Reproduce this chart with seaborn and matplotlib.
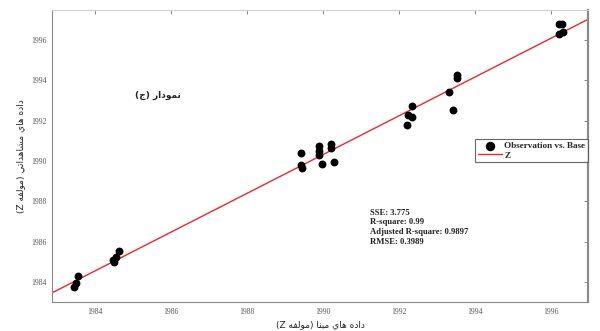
import numpy as np
import pandas as pd
import seaborn as sns
import matplotlib.pyplot as plt

# observed vs base values (component Z)
base_x = [1983.45, 1983.50, 1983.55, 1984.47, 1984.50, 1984.55, 1984.63,
          1989.42, 1989.42, 1989.45, 1989.90, 1989.90, 1989.90, 1989.97,
          1990.20, 1990.20, 1990.30,
          1992.20, 1992.24, 1992.33, 1992.33,
          1993.32, 1993.43, 1993.52, 1993.52,
          1996.20, 1996.28, 1996.22, 1996.30]
obs_y = [1983.75, 1983.92, 1984.30, 1985.09, 1984.99, 1985.24, 1985.53,
         1990.38, 1989.80, 1989.64, 1990.74, 1990.51, 1990.30, 1989.84,
         1990.84, 1990.63, 1989.97,
         1991.77, 1992.30, 1992.71, 1992.18,
         1993.45, 1992.51, 1994.28, 1994.11,
         1996.79, 1996.80, 1996.30, 1996.38]

# linear fit Z(x) = p1 * (x - 1990) + p2
p1, p2 = 0.963, 1990.32

x_ticks = [1984, 1986, 1988, 1990, 1992, 1994, 1996]
y_ticks = [1984, 1986, 1988, 1990, 1992, 1994, 1996]
x_range = (1982.87, 1996.97)
y_range = (1983.0, 1997.5)

stats_text = "SSE: 3.775\nR-square: 0.99\nAdjusted R-square: 0.9897\nRMSE: 0.3989"
legend_labels = ["Observation vs. Base", "Z"]
panel_title = "نمودار (ج)"
x_label = "داده هاي مبنا (مولفه Z)"
y_label = "داده هاي مشاهداتي (مولفه Z)"


# minimal arabic shaping: letter -> (isolated form codepoint, dual joining)
AR_FORMS = {
    'ا': (0xFE8D, False), 'ب': (0xFE8F, True), 'ت': (0xFE95, True),
    'ج': (0xFE9D, True), 'د': (0xFEA9, False), 'ر': (0xFEAD, False),
    'ش': (0xFEB5, True), 'ف': (0xFED1, True), 'ل': (0xFEDD, True),
    'م': (0xFEE1, True), 'ن': (0xFEE5, True), 'ه': (0xFEE9, True),
    'و': (0xFEED, False), 'ي': (0xFEF1, True),
}


def shape_rtl(text):
    out = []
    for i, ch in enumerate(text):
        if ch not in AR_FORMS:
            out.append(ch)
            continue
        base, dual = AR_FORMS[ch]
        prev = text[i - 1] if i > 0 else ''
        nxt = text[i + 1] if i + 1 < len(text) else ''
        j_prev = prev in AR_FORMS and AR_FORMS[prev][1]
        j_next = dual and nxt in AR_FORMS
        if j_prev and j_next:
            code = base + 3
        elif j_prev:
            code = base + 1
        elif j_next:
            code = base + 2
        else:
            code = base
        out.append(chr(code))
    vis = ''.join(reversed(out))
    return vis.translate(str.maketrans('()', ')('))


sns.set_theme(style="white")
plt.rcParams['font.family'] = ['DejaVu Sans']

df = pd.DataFrame({'x': base_x, 'y': obs_y})
fit_x = np.array(x_range)
fit = pd.DataFrame({'x': fit_x, 'y': p1 * (fit_x - 1990) + p2})

fig = plt.figure(figsize=(6, 3.31), dpi=100)
ax = fig.add_axes([0.0867, 0.0876, 0.8933, 0.8824])

sns.scatterplot(data=df, x='x', y='y', ax=ax, color='black', s=32,
                edgecolor='black', linewidth=0, label=legend_labels[0], zorder=3)
sns.lineplot(data=fit, x='x', y='y', ax=ax, color='#e8292b', linewidth=1.0,
             label=legend_labels[1], zorder=2)

ax.set_xlim(*x_range)
ax.set_ylim(*y_range)
ax.set_xticks(x_ticks)
ax.set_yticks(y_ticks)
ax.tick_params(direction='in', length=3, width=0.6, colors='#777777',
               top=True, right=True, labelsize=5.5, pad=4)
for lab in ax.get_xticklabels() + ax.get_yticklabels():
    lab.set_family('Liberation Serif')
    lab.set_color('#555555')

for side in ['left', 'bottom']:
    ax.spines[side].set_color('#8a8a8a')
    ax.spines[side].set_linewidth(0.8)
ax.spines['top'].set_color('#d0d0d0')
ax.spines['top'].set_linewidth(0.8)
ax.spines['right'].set_color('#8a8a8a')
ax.spines['right'].set_linewidth(1.6)

ax.set_xlabel(shape_rtl(x_label), fontsize=6.5, color='#222222', labelpad=3)
ax.set_ylabel(shape_rtl(y_label), fontsize=6.5, color='#222222', labelpad=4)

ax.text(1985.66, 1993.24, shape_rtl(panel_title), fontsize=6.5, fontweight='bold',
        ha='center', va='center', color='#222222')

ax.text(0.593, 0.32, stats_text, transform=ax.transAxes, fontsize=6.2,
        fontweight='bold', family='Liberation Serif', va='top', ha='left',
        linespacing=1.3, color='#222222')

leg = ax.legend(loc='upper right', bbox_to_anchor=(1.0, 0.558), borderaxespad=0,
                frameon=True, fancybox=False, handlelength=2.6,
                handletextpad=0.3, borderpad=0.3, labelspacing=0.1,
                markerscale=1.2,
                prop={'family': 'Liberation Serif', 'weight': 'bold', 'size': 6.6})
leg.get_frame().set_edgecolor('#444444')
leg.get_frame().set_linewidth(0.8)

fig.savefig('out.png', dpi=100)
